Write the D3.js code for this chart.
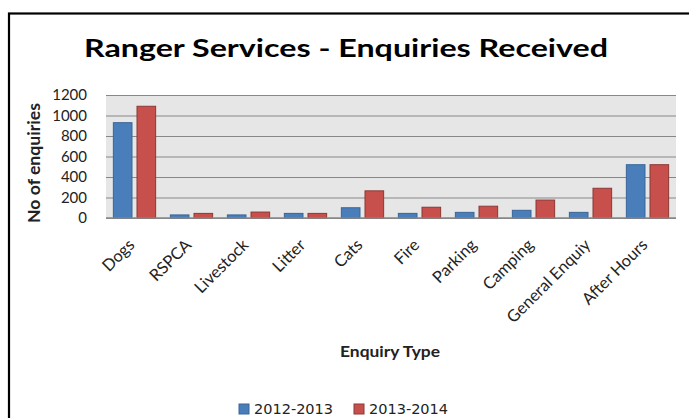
<!DOCTYPE html>
<html>
<head>
<meta charset="utf-8">
<script src="https://cdn.jsdelivr.net/npm/d3@7/dist/d3.min.js"></script>
<style>
  html, body { margin: 0; padding: 0; background: #fff; }
  svg { display: block; }
</style>
</head>
<body>
<svg id="chart" width="689" height="418"></svg>
<script>
// Enquiry categories and counts per financial year
const categories = ["Dogs", "RSPCA", "Livestock", "Litter", "Cats", "Fire", "Parking", "Camping", "General Enquiy", "After Hours"];
const seriesNames = ["2012-2013", "2013-2014"];
const values2012 = [930, 30, 30, 45, 100, 45, 55, 75, 55, 520];
const values2013 = [1090, 45, 58, 45, 265, 105, 115, 175, 290, 520];
const yTicks = [0, 200, 400, 600, 800, 1000, 1200];

const seriesValues = [values2012, values2013];
const fills = ["#4a7ebb", "#c8504c"];
const strokes = ["#3a6597", "#8c3836"];
const font = "Lato, 'Open Sans', sans-serif";

const svg = d3.select("#chart");
const plot = { left: 106, right: 676, top: 95, bottom: 218 };

// Outer frame
svg.append("rect")
  .attr("x", 9).attr("y", 13.5)
  .attr("width", 700).attr("height", 430)
  .attr("fill", "none").attr("stroke", "#000").attr("stroke-width", 2.2);

// Title
svg.append("text")
  .attr("x", 84).attr("y", 57)
  .attr("font-family", font)
  .attr("font-weight", "bold")
  .attr("font-size", 24)
  .attr("fill", "#000")
  .attr("textLength", 524)
  .attr("lengthAdjust", "spacingAndGlyphs")
  .text("Ranger Services - Enquiries Received");

const x0 = d3.scaleBand().domain(categories).range([plot.left, plot.right]).padding(0);
const x1 = d3.scaleBand().domain(seriesNames).range([0, x0.bandwidth()])
  .paddingInner(0.17).paddingOuter(0.29);
const y = d3.scaleLinear().domain([0, 1200]).range([plot.bottom, plot.top]);

// Plot background
svg.append("rect")
  .attr("x", plot.left).attr("y", plot.top)
  .attr("width", plot.right - plot.left).attr("height", plot.bottom - plot.top)
  .attr("fill", "#e6e6e6");

// Gridlines and y tick labels
const yAxis = d3.axisLeft(y).tickValues(yTicks).tickFormat(d3.format("d"))
  .tickSize(-(plot.right - plot.left)).tickPadding(19);
const yg = svg.append("g").attr("transform", `translate(${plot.left},0)`).call(yAxis);
yg.select(".domain").remove();
yg.selectAll(".tick line").attr("stroke", "#878787").attr("stroke-width", 1.2);
yg.selectAll(".tick text")
  .attr("font-family", font)
  .attr("font-size", 15)
  .attr("fill", "#222");

// Bars
const groups = svg.append("g").selectAll("g")
  .data(categories)
  .join("g")
  .attr("transform", d => `translate(${x0(d)},0)`);

groups.selectAll("rect")
  .data((c, i) => seriesNames.map((s, k) => ({ s, k, v: seriesValues[k][i] })))
  .join("rect")
  .attr("x", d => x1(d.s) + 0.5)
  .attr("width", x1.bandwidth() - 1)
  .attr("y", d => y(d.v))
  .attr("height", d => y(0) - y(d.v))
  .attr("fill", d => fills[d.k])
  .attr("stroke", d => strokes[d.k])
  .attr("stroke-width", 1);

// Baseline
svg.append("line")
  .attr("x1", plot.left).attr("x2", plot.right)
  .attr("y1", y(0)).attr("y2", y(0))
  .attr("stroke", "#878787").attr("stroke-width", 1.5);

// Category labels, rotated
svg.append("g").selectAll("text")
  .data(categories)
  .join("text")
  .attr("transform", d => `translate(${x0(d) + x0.bandwidth() / 2 + 1},${plot.bottom + 28}) rotate(-45)`)
  .attr("text-anchor", "end")
  .attr("font-family", font)
  .attr("font-size", 16.5)
  .attr("fill", "#222")
  .text(d => d);

// Axis titles
svg.append("text")
  .attr("x", 390).attr("y", 357)
  .attr("text-anchor", "middle")
  .attr("font-family", font)
  .attr("font-weight", "bold")
  .attr("font-size", 15)
  .attr("fill", "#222")
  .attr("textLength", 100)
  .attr("lengthAdjust", "spacingAndGlyphs")
  .text("Enquiry Type");

svg.append("text")
  .attr("transform", "translate(39.5,163) rotate(-90)")
  .attr("text-anchor", "middle")
  .attr("font-family", font)
  .attr("font-weight", "bold")
  .attr("font-size", 17)
  .attr("fill", "#222")
  .attr("textLength", 120)
  .attr("lengthAdjust", "spacingAndGlyphs")
  .text("No of enquiries");

// Legend
const legendX = [239, 354];
const legend = svg.append("g").selectAll("g")
  .data(seriesNames)
  .join("g")
  .attr("transform", (d, i) => `translate(${legendX[i]},404)`);
legend.append("rect")
  .attr("width", 10).attr("height", 10)
  .attr("fill", (d, i) => fills[i])
  .attr("stroke", (d, i) => strokes[i]).attr("stroke-width", 1);
legend.append("text")
  .attr("x", 15).attr("y", 10)
  .attr("font-family", "'DejaVu Sans', Verdana, sans-serif")
  .attr("font-size", 14.5)
  .attr("fill", "#222")
  .text(d => d);
</script>
</body>
</html>
